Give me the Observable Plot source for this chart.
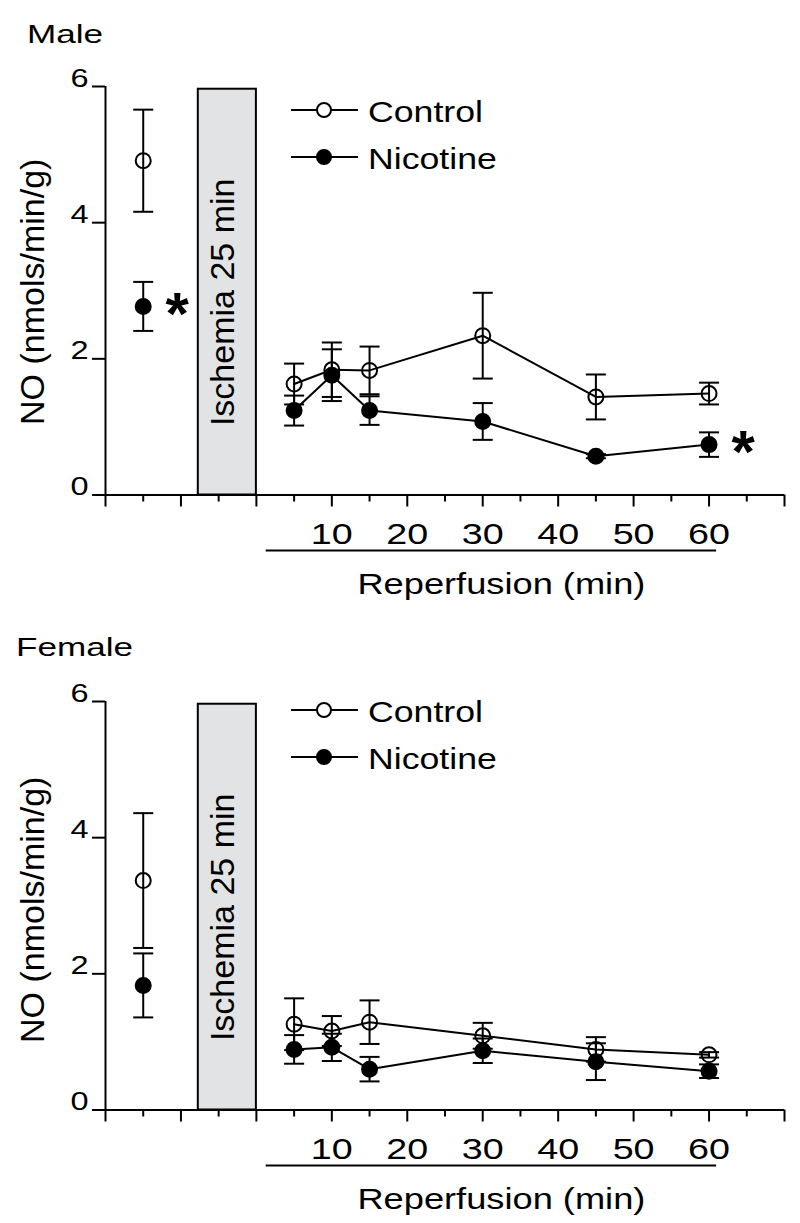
<!DOCTYPE html>
<html>
<head>
<meta charset="utf-8">
<script src="https://cdn.jsdelivr.net/npm/d3@7"></script>
<script src="https://cdn.jsdelivr.net/npm/@observablehq/plot@0.6"></script>
<style>
  body { margin: 0; background: #fff; overflow: hidden; font-family: "Liberation Sans", Arial, Helvetica, sans-serif; }
  #fig { position: relative; width: 800px; height: 1223px; }
  .panel { position: absolute; left: 0; width: 800px; }
  .panel > svg.plotsvg { display: block; }
  .title { position: absolute; font-size: 26px; line-height: 26px; transform: scaleX(1.35); transform-origin: 0 0; white-space: nowrap; color: #000; }
</style>
</head>
<body>
<div id="fig"></div>
<script>
// ---------- data ----------
// time points (min); -15 is the pre-ischemia baseline sample
const timePoints = [-15, 5, 10, 15, 30, 45, 60];
const groups = ["Control", "Nicotine"];

const maleControlMean  = [4.91, 1.63, 1.84, 1.83, 2.34, 1.44, 1.49];
const maleControlSem   = [0.75, 0.30, 0.40, 0.35, 0.63, 0.33, 0.16];
const maleNicotineMean = [2.77, 1.24, 1.76, 1.24, 1.08, 0.57, 0.74];
const maleNicotineSem  = [0.36, 0.22, 0.38, 0.21, 0.27, 0.03, 0.18];
const maleSignificant  = [-15, 60];   // Nicotine vs Control, p<0.05

const femaleControlMean  = [3.37, 1.26, 1.16, 1.29, 1.09, 0.89, 0.81];
const femaleControlSem   = [0.99, 0.38, 0.22, 0.32, 0.19, 0.18, 0.04];
const femaleNicotineMean = [1.83, 0.89, 0.92, 0.60, 0.87, 0.71, 0.57];
const femaleNicotineSem  = [0.47, 0.21, 0.20, 0.18, 0.18, 0.27, 0.10];
const femaleSignificant  = [];

const xTickLabels = [10, 20, 30, 40, 50, 60];
const majorTicks = [-20, -10, 0, 10, 20, 30, 40, 50, 60, 70];
const minorTicks = [-15, -5, 5, 15, 25, 35, 45, 55, 65];
const yTicks = [0, 2, 4, 6];
const ischemia = [{start: -7.7, end: 0, label: "Ischemia 25 min"}];
const reperfusionSpan = [{start: 1.3, end: 61, label: "Reperfusion (min)"}];
const yLabel = "NO (nmols/min/g)";

// ---------- helpers ----------
const FONT = "'Liberation Sans', Arial, Helvetica, sans-serif";

function rows(cm, cs, nm, ns) {
  const out = [];
  timePoints.forEach((t, i) => {
    out.push({group: "Control", time: t, mean: cm[i], sem: cs[i]});
    out.push({group: "Nicotine", time: t, mean: nm[i], sem: ns[i]});
  });
  return out;
}

const capSymbol = {draw(ctx) { ctx.moveTo(-10, 0); ctx.lineTo(10, 0); }};

function stretchEl(t, k) {
  const x = t.getAttribute("x"), y = t.getAttribute("y");
  let tr = t.getAttribute("transform") || "";
  if (x || y) {
    tr += ` translate(${+x || 0},${+y || 0})`;
    t.removeAttribute("x"); t.removeAttribute("y");
  }
  t.setAttribute("transform", `${tr} scale(${k},1)`);
}
function stretchGroup(svg, label, k) {
  svg.querySelectorAll(`g[aria-label="${label}"] text`).forEach(t => stretchEl(t, k));
}
function stretchContent(svg, contents, k) {
  const set = new Set(contents.map(String));
  svg.querySelectorAll("text").forEach(t => { if (set.has(t.textContent.trim())) stretchEl(t, k); });
}

const panels = [
  {title: "Male", top: 0, height: 615, titleLeft: 26.7, titleTop: 21, legendTop: 110, yLabelDy: 1,
   data: rows(maleControlMean, maleControlSem, maleNicotineMean, maleNicotineSem), significant: maleSignificant},
  {title: "Female", top: 615, height: 608, titleLeft: 15.5, titleTop: 19, legendTop: 95, yLabelDy: 4,
   data: rows(femaleControlMean, femaleControlSem, femaleNicotineMean, femaleNicotineSem), significant: femaleSignificant}
];

const fig = document.getElementById("fig");

panels.forEach(p => {
  const H = p.height;
  const data = p.data;
  const ctrl = data.filter(d => d.group === "Control");
  const nic = data.filter(d => d.group === "Nicotine");
  const reper = data.filter(d => d.time > 0);
  const sig = nic.filter(d => p.significant.includes(d.time));

  const chart = Plot.plot({
    width: 800,
    height: H,
    marginLeft: 105,
    marginRight: 16,
    marginTop: 86,
    marginBottom: H - 494.5,
    x: {domain: [-20, 70], label: null},
    y: {domain: [0, 6], label: null},
    style: {fontFamily: FONT, color: "black", background: "white"},
    marks: [
      Plot.rect(ischemia, {x1: "start", x2: "end", y1: 0, y2: 5.96, fill: "#e2e3e5", stroke: "black", strokeWidth: 2}),
      Plot.text(ischemia, {x: d => (d.start + d.end) / 2, y: 2.83, text: "label", rotate: -90, textAnchor: "middle",
                           fontSize: 34, dx: -4.4, fill: "black"}),
      Plot.ruleY([0], {strokeWidth: 2}),
      Plot.ruleX([-20], {strokeWidth: 2}),
      Plot.axisX({ticks: majorTicks, tickSize: 12, strokeWidth: 2, fill: "none", label: null}),
      Plot.axisX({ticks: minorTicks, tickSize: 7, strokeWidth: 2, fill: "none", label: null}),
      Plot.text(xTickLabels, {x: d => d, y: 0, text: d => String(d), dy: 48.8, lineAnchor: "bottom",
                              fontSize: 29, fill: "black"}),
      Plot.axisY({ticks: yTicks, tickFormat: d => String(d), tickSize: 13, tickPadding: 4, fontSize: 26,
                  strokeWidth: 2, label: null}),
      Plot.text([yLabel], {frameAnchor: "left", rotate: -90, textAnchor: "middle", dx: -72.6, dy: p.yLabelDy,
                           fontSize: 34, fill: "black"}),
      Plot.ruleY(reperfusionSpan, {x1: "start", x2: "end", y: 0, dy: 55.5, strokeWidth: 2}),
      Plot.text(reperfusionSpan, {x: d => (d.start + d.end) / 2, y: 0, text: "label", dx: 10, dy: 98.5,
                                  lineAnchor: "bottom", fontSize: 29, fill: "black"}),
      Plot.dot(ctrl, {x: "time", y: "mean", r: 7.5, fill: "white", stroke: "black", strokeWidth: 2}),
      Plot.line(reper, {x: "time", y: "mean", z: "group", stroke: "black", strokeWidth: 2}),
      Plot.ruleX(data, {x: "time", y1: d => d.mean - d.sem, y2: d => d.mean + d.sem, stroke: "black", strokeWidth: 2}),
      Plot.dot(data, {x: "time", y: d => d.mean + d.sem, symbol: capSymbol, fill: "none", stroke: "black", strokeWidth: 2}),
      Plot.dot(data, {x: "time", y: d => d.mean - d.sem, symbol: capSymbol, fill: "none", stroke: "black", strokeWidth: 2}),
      Plot.dot(nic, {x: "time", y: "mean", r: 7.5, fill: "black", stroke: "black", strokeWidth: 2}),
      Plot.text(sig, {x: "time", y: "mean", text: () => "*", dx: 34, dy: 8, fontSize: 60, fontWeight: "bold",
                      fill: "black"})
    ]
  });
  chart.classList.add("plotsvg");
  stretchGroup(chart, "y-axis tick label", 1.25);
  stretchContent(chart, xTickLabels, 1.3);
  stretchContent(chart, reperfusionSpan.map(d => d.label), 1.25);

  const panel = document.createElement("div");
  panel.className = "panel";
  panel.style.top = p.top + "px";
  panel.style.height = H + "px";
  panel.appendChild(chart);

  const title = document.createElement("div");
  title.className = "title";
  title.textContent = p.title;
  title.style.left = p.titleLeft + "px";
  title.style.top = p.titleTop + "px";
  panel.appendChild(title);

  const legend = d3.create("svg")
    .attr("width", 800).attr("height", 220)
    .style("position", "absolute").style("left", "0px").style("top", "0px")
    .style("pointer-events", "none").style("overflow", "visible");
  groups.forEach((g, i) => {
    const y = p.legendTop + i * 47;
    legend.append("line").attr("x1", 291).attr("x2", 358).attr("y1", y).attr("y2", y)
      .attr("stroke", "black").attr("stroke-width", 2);
    legend.append("circle").attr("cx", 324).attr("cy", y).attr("r", 7)
      .attr("fill", g === "Control" ? "white" : "black").attr("stroke", "black").attr("stroke-width", 2);
    legend.append("text").attr("transform", `translate(368,${y + 11.5}) scale(1.23,1)`)
      .attr("font-size", 29).attr("font-family", FONT).attr("fill", "black").text(g);
  });
  panel.appendChild(legend.node());

  fig.appendChild(panel);
});
</script>
</body>
</html>
